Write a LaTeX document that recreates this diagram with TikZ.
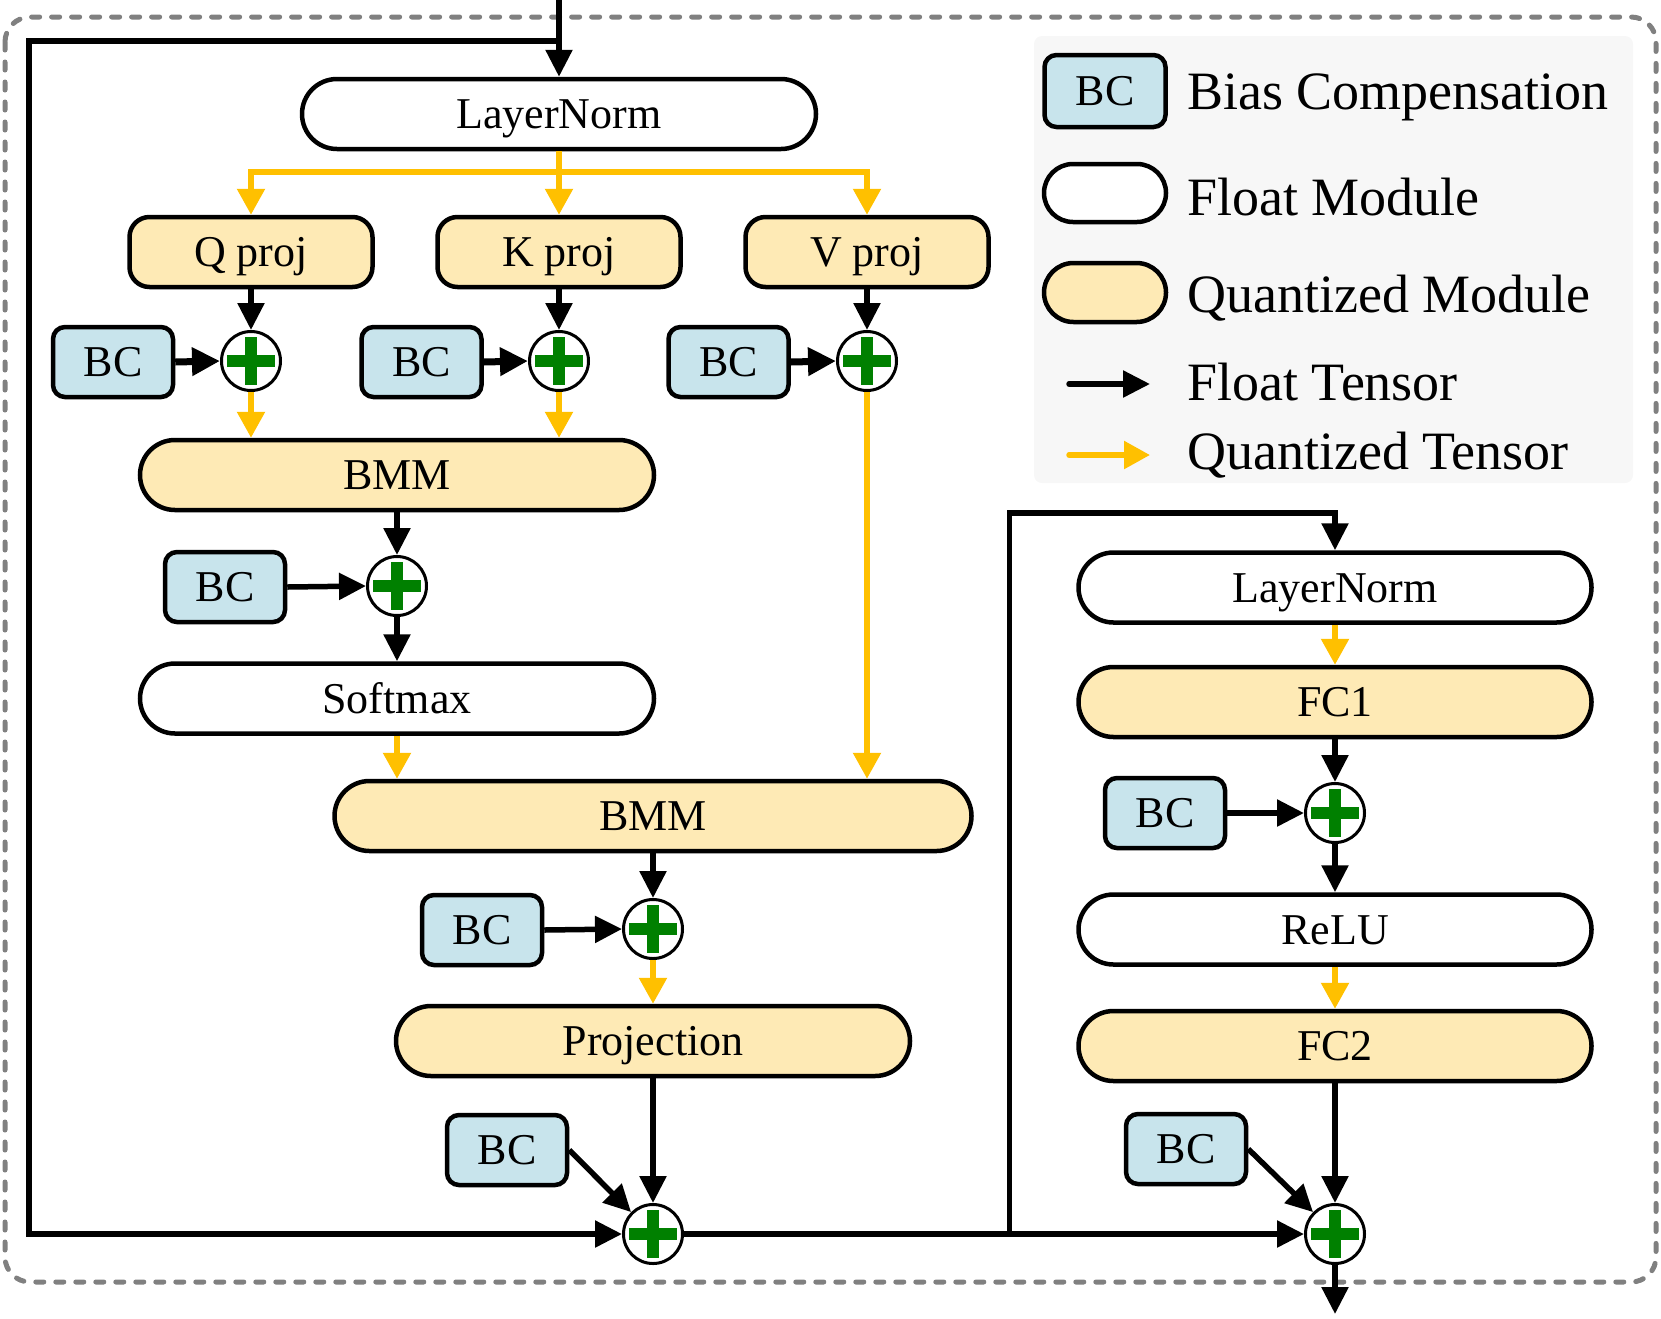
\documentclass[tikz,border=0pt]{standalone}
\usepackage{fontspec}
\setmainfont{Liberation Serif}
\usetikzlibrary{arrows.meta,shapes.misc}
\definecolor{qfill}{RGB}{254,234,181}
\definecolor{qline}{RGB}{255,192,0}
\definecolor{bcfill}{RGB}{200,228,236}
\definecolor{pgreen}{RGB}{0,128,0}
\definecolor{bordergray}{RGB}{128,128,128}
\definecolor{legbg}{RGB}{247,247,247}
\newcommand{\nodefont}{\fontsize{44}{50}\selectfont}
\newcommand{\legfont}{\fontsize{54}{60}\selectfont}
\begin{document}
\begin{tikzpicture}[x=1pt,y=-1pt,
  base/.style={draw, line width=4.5pt, font=\nodefont, inner sep=0pt, text height=34pt, text depth=5pt},
  floatm/.style={base, rounded rectangle, fill=white, minimum height=70pt},
  quantm/.style={base, rounded rectangle, fill=qfill, minimum height=70pt},
  projbox/.style={base, rectangle, rounded corners=20pt, fill=qfill, minimum width=243pt, minimum height=70pt},
  bcbox/.style={base, rectangle, rounded corners=12pt, fill=bcfill, minimum width=120pt, minimum height=70pt},
  addop/.style={circle, draw, line width=3pt, fill=white, minimum size=59pt, inner sep=0pt,
    path picture={
      \fill[pgreen] ([xshift=-24pt,yshift=-6pt]path picture bounding box.center) rectangle ([xshift=24pt,yshift=6pt]path picture bounding box.center);
      \fill[pgreen] ([xshift=-6pt,yshift=-24pt]path picture bounding box.center) rectangle ([xshift=6pt,yshift=24pt]path picture bounding box.center);}},
  farrow/.style={line width=5.5pt, -{Triangle[length=27pt,width=26pt]}},
  bcarrow/.style={line width=7pt, -{Triangle[length=28pt,width=27pt]}},
  qarrow/.style={line width=5.5pt, draw=qline, -{Triangle[length=26pt,width=27pt]}, qline},
  legtext/.style={font=\legfont, anchor=base west, inner sep=0pt}
]
\useasboundingbox (0,0) rectangle (1661,1318);

% outer dashed border
\draw[bordergray, line width=5pt, dash pattern=on 8pt off 12pt, line cap=round, rounded corners=25pt] (5,17) rectangle (1656,1282);

% legend
\fill[legbg, rounded corners=8pt] (1034,36) rectangle (1633,483);
\node[bcbox, minimum width=121pt, minimum height=72pt] (lbc) at (1105,91) {BC};
\node[floatm, minimum width=122pt, minimum height=58pt] (lfm) at (1105,193) {};
\node[quantm, minimum width=122pt, minimum height=59pt] (lqm) at (1105,292.5) {};
\coordinate (lfa) at (1069,384);
\coordinate (lfb) at (1150,384);
\coordinate (lqa) at (1069,455);
\coordinate (lqb) at (1150,455);
\draw[farrow, line cap=round] (lfa) -- (lfb);
\draw[qarrow, line cap=round] (lqa) -- (lqb);
\node[legtext] (t1) at (1187,109) {Bias Compensation};
\node[legtext] (t2) at (1187,215) {Float Module};
\node[legtext] (t3) at (1187,312) {Quantized Module};
\node[legtext] (t4) at (1187,400) {Float Tensor};
\node[legtext] (t5) at (1187,469) {Quantized Tensor};

% left branch nodes
\node[floatm, minimum width=514pt] (LN1) at (559,114) {LayerNorm};
\node[projbox] (Q) at (251,252) {Q proj};
\node[projbox] (K) at (559,252) {K proj};
\node[projbox] (V) at (867,252) {V proj};
\node[bcbox] (BC1) at (113,362) {BC};
\node[bcbox] (BC2) at (421.5,362) {BC};
\node[bcbox] (BC3) at (728.5,362) {BC};
\node[addop] (P1) at (251,361) {};
\node[addop] (P2) at (559,361) {};
\node[addop] (P3) at (867,361) {};
\node[quantm, minimum width=514pt] (BMM1) at (397,475) {BMM};
\node[bcbox] (BC4) at (225,587) {BC};
\node[addop] (P4) at (397,586) {};
\node[floatm, minimum width=514pt] (SM) at (397,698.5) {Softmax};
\node[quantm, minimum width=637pt] (BMM2) at (653,816) {BMM};
\node[bcbox] (BC5) at (482,930) {BC};
\node[addop] (P5) at (653,929) {};
\node[quantm, minimum width=514pt] (PR) at (653,1041) {Projection};
\node[bcbox] (BC6) at (507,1150) {BC};
\node[addop] (P6) at (653,1234) {};

% right branch nodes
\node[floatm, minimum width=513pt] (LN2) at (1335,587.5) {LayerNorm};
\node[quantm, minimum width=513pt] (FC1) at (1335,702) {FC1};
\node[bcbox] (BC7) at (1165,813) {BC};
\node[addop] (P7) at (1335,813) {};
\node[floatm, minimum width=513pt] (RL) at (1335,929.5) {ReLU};
\node[quantm, minimum width=513pt] (FC2) at (1335,1046) {FC2};
\node[bcbox] (BC8) at (1186,1149) {BC};
\node[addop] (P8) at (1335,1234) {};

% coordinates
\coordinate (in) at (559,0);
\coordinate (fb) at (559,41);
\coordinate (lc) at (29,41);
\coordinate (split) at (559,172);
\coordinate (br) at (1009.5,1234);
\coordinate (brt) at (1009.5,513);
\coordinate (out) at (1335,1314);

% input and residual
\draw[farrow] (in) -- (LN1.north);
\draw[farrow] (fb) -- (lc) |- (P6.west);

% LayerNorm -> projections
\draw[qarrow] (LN1.south) -- (K.north);
\draw[qarrow] (split) -| (Q.north);
\draw[qarrow] (split) -| (V.north);

% projections -> adds
\draw[farrow] (Q.south) -- (P1.north);
\draw[farrow] (K.south) -- (P2.north);
\draw[farrow] (V.south) -- (P3.north);
\draw[bcarrow] (BC1.east) -- (P1.west);
\draw[bcarrow] (BC2.east) -- (P2.west);
\draw[bcarrow] (BC3.east) -- (P3.west);
\draw[qarrow] (P1.south) -- (P1.south |- BMM1.north);
\draw[qarrow] (P2.south) -- (P2.south |- BMM1.north);
\draw[qarrow] (P3.south) -- (P3.south |- BMM2.north);

% BMM1 -> softmax
\draw[farrow] (BMM1.south) -- (P4.north);
\draw[farrow] (BC4.east) -- (P4.west);
\draw[farrow] (P4.south) -- (SM.north);
\draw[qarrow] (SM.south) -- (SM.south |- BMM2.north);

% BMM2 -> projection
\draw[farrow] (BMM2.south) -- (P5.north);
\draw[farrow] (BC5.east) -- (P5.west);
\draw[qarrow] (P5.south) -- (PR.north);
\draw[farrow] (PR.south) -- (P6.north);
\draw[farrow] (BC6.east) -- (P6.north west);

% to second block
\draw[farrow] (P6.east) -- (P8.west);
\draw[farrow] (br) -- (brt) -| (LN2.north);
\draw[qarrow] (LN2.south) -- (FC1.north);
\draw[farrow] (FC1.south) -- (P7.north);
\draw[farrow] (BC7.east) -- (P7.west);
\draw[farrow] (P7.south) -- (RL.north);
\draw[qarrow] (RL.south) -- (FC2.north);
\draw[farrow] (FC2.south) -- (P8.north);
\draw[farrow] (BC8.east) -- (P8.north west);
\draw[farrow] (P8.south) -- (out);
\end{tikzpicture}
\end{document}
